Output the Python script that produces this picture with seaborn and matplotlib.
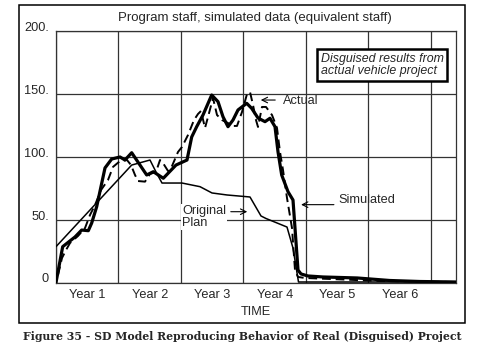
import matplotlib
matplotlib.use("Agg")
import matplotlib.pyplot as plt
import seaborn as sns
import pandas as pd
from matplotlib.patches import Rectangle

# ---- data (time in years, staff) ----
sim_t = [0, 0.107, 0.304, 0.411, 0.517, 0.571, 0.651, 0.784, 0.891, 1.024, 1.104, 1.211,
         1.451, 1.504, 1.557, 1.717, 1.92, 2.096, 2.171, 2.251, 2.352, 2.491, 2.592, 2.672,
         2.752, 2.832, 2.912, 3.051, 3.131, 3.232, 3.344, 3.424, 3.504, 3.552, 3.611, 3.712,
         3.792, 3.872, 3.92, 4.03, 4.27, 4.82, 5.34, 5.82, 6.4]
sim_v = [0, 28.5, 36.2, 41.7, 41.2, 47.3, 60.3, 91.1, 98.2, 99.8, 97.4, 103.2,
         85.5, 86.8, 88.1, 82.9, 93.4, 97.4, 115.7, 123.9, 133.2, 149.1, 143.8, 131.8,
         123.9, 129.2, 137.2, 142.5, 138.5, 130.8, 127.9, 130.6, 123.9, 104.0, 85.5, 72.2,
         65.6, 9.9, 6.8, 5.2, 4.4, 3.6, 1.6, 0.8, 0.4]

act_t = [0.032, 0.096, 0.16, 0.224, 0.352, 0.464, 0.544, 0.624, 0.72, 0.832, 0.912, 1.024,
         1.136, 1.2, 1.264, 1.312, 1.424, 1.504, 1.6, 1.664, 1.712, 1.792, 1.856, 1.952,
         2.016, 2.112, 2.208, 2.272, 2.32, 2.384, 2.432, 2.512, 2.576, 2.656, 2.752, 2.816,
         2.896, 2.976, 3.056, 3.104, 3.152, 3.2, 3.232, 3.296, 3.36, 3.456, 3.536, 3.584,
         3.632, 3.696, 3.776, 3.824, 3.872, 3.984, 4.384, 5.184, 6.4]
act_v = [6.0, 19.5, 25.8, 31.4, 37.0, 43.3, 53.7, 61.6, 73.5, 81.5, 91.9, 96.6,
         97.4, 93.4, 85.5, 80.7, 80.2, 86.3, 87.9, 97.4, 95.0, 88.7, 92.6, 103.8,
         107.8, 117.3, 129.2, 134.0, 136.4, 122.9, 131.6, 146.7, 133.2, 129.2, 126.8, 124.5,
         124.5, 135.6, 149.9, 151.5, 141.2, 129.2, 123.7, 139.6, 139.6, 133.2, 122.9, 103.8,
         89.5, 67.2, 43.3, 9.9, 4.4, 3.6, 2.8, 1.2, 0.4]

plan_t = [0, 1.211, 1.504, 1.6, 1.696, 2.016, 2.304, 2.496, 2.736, 3.104, 3.28, 3.36,
          3.696, 3.792, 3.88, 6.4]
plan_v = [28.5, 93.4, 97.4, 87.9, 79.1, 79.1, 76.2, 71.2, 69.6, 68.0, 52.9, 50.9,
          44.1, 27.4, 0.4, 0.4]

year_pos = [0.5, 1.5, 2.5, 3.5, 4.5, 5.5]
year_labels = ["Year 1", "Year 2", "Year 3", "Year 4", "Year 5", "Year 6"]
y_ticks = [0, 50, 100, 150, 200]
y_labels = ["0", "50.", "100.", "150.", "200."]

sns.set_style("white")
plt.rcParams["font.family"] = ["Liberation Sans", "DejaVu Sans"]

W, H = 485, 349
fig = plt.figure(figsize=(W / 100, H / 100), dpi=100)
ax = fig.add_axes([56 / W, 1 - 282.5 / H, 400 / W, 251.5 / H])

sim = pd.DataFrame({"t": sim_t, "v": sim_v})
act = pd.DataFrame({"t": act_t, "v": act_v})
plan = pd.DataFrame({"t": plan_t, "v": plan_v})

sns.lineplot(data=plan, x="t", y="v", ax=ax, color="black", lw=1.1, sort=False, estimator=None, zorder=3)
sns.lineplot(data=act, x="t", y="v", ax=ax, color="black", lw=1.4, sort=False, estimator=None,
             dashes=False, zorder=4).lines[-1].set_dashes([4.5, 2.5])
sns.lineplot(data=sim, x="t", y="v", ax=ax, color="black", lw=2.3, sort=False, estimator=None, zorder=5)

ax.set_xlim(0, 6.4)
ax.set_ylim(0, 200)
ax.set_xticks(range(7))
ax.set_xticklabels([])
ax.set_xticks(year_pos, minor=True)
ax.set_xticklabels(year_labels, minor=True, fontsize=9.2)
ax.tick_params(axis="x", which="both", length=0, pad=5)
ax.set_yticks(y_ticks)
ax.set_yticklabels(y_labels, fontsize=9.2)
for lab in ax.get_yticklabels():
    lab.set_verticalalignment("baseline")
ax.tick_params(axis="y", length=0, pad=5)
ax.grid(True, which="major", color="#333333", lw=0.9)
ax.set_axisbelow(True)
for s in ax.spines.values():
    s.set_color("#333333")
    s.set_linewidth(0.9)
ax.set_xlabel("TIME", fontsize=9.2, labelpad=3)
ax.set_ylabel("")

# annotations
ax.annotate("", xy=(3.232, 145.1), xytext=(3.552, 145.1),
            arrowprops=dict(arrowstyle="->", color="black", lw=0.8))
ax.text(3.632, 144.0, "Actual", fontsize=9.2, ha="left", va="center")
ax.annotate("", xy=(3.877, 61.9), xytext=(4.491, 61.9),
            arrowprops=dict(arrowstyle="->", color="black", lw=0.8))
ax.text(4.512, 66.0, "Simulated", fontsize=9.2, ha="left", va="center")
ax.text(2.016, 52.0, "Original\nPlan", fontsize=9.2, ha="left", va="center", linespacing=1.05,
        bbox=dict(facecolor="white", edgecolor="none", pad=0.5), zorder=6)
ax.annotate("", xy=(3.104, 56.3), xytext=(2.752, 56.3),
            arrowprops=dict(arrowstyle="->", color="black", lw=0.8), zorder=6)
ax.text(0.662, 0.865, "Disguised results from\nactual vehicle project", transform=ax.transAxes,
        fontsize=8.9, style="italic", ha="left", va="center", multialignment="left",
        linespacing=1.1, zorder=7,
        bbox=dict(boxstyle="square,pad=0.28", facecolor="white", edgecolor="black", lw=1.8))

fig.text(255 / W, 1 - 18.3 / H, "Program staff, simulated data (equivalent staff)",
         fontsize=9.5, ha="center", va="center")
fig.patches.append(Rectangle((19 / W, 1 - 323 / H), 446 / W, 318 / H, transform=fig.transFigure,
                             fill=False, edgecolor="black", lw=1.1))
fig.text(242.5 / W, 1 - 336 / H, "Figure 35 - SD Model Reproducing Behavior of Real (Disguised) Project",
         fontsize=7.8, fontweight="bold", family="DejaVu Serif", ha="center", va="center")

fig.savefig("out.png", dpi=100)
